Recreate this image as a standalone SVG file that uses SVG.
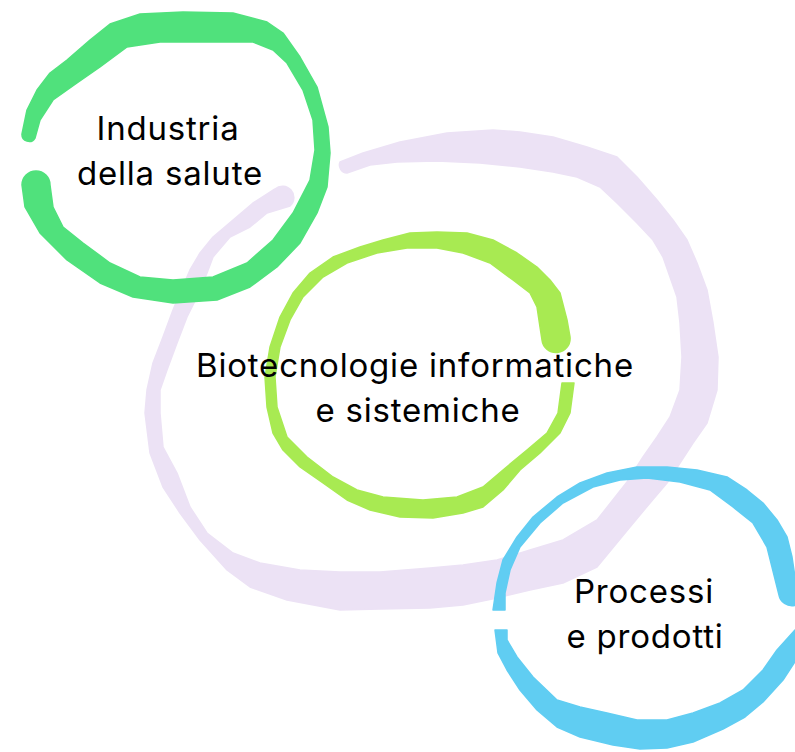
<svg xmlns="http://www.w3.org/2000/svg" width="795" height="752" viewBox="0 0 795 752">
<style>
.ring{stroke-width:1.5;stroke-linejoin:round}
.lav{fill:#ECE2F5;stroke:#ECE2F5}
.grn{fill:#50E17C;stroke:#50E17C}
.lim{fill:#A8EA52;stroke:#A8EA52}
.blu{fill:#60CDF2;stroke:#60CDF2}
.lbl{font-family:Inter,"Open Sans","Liberation Sans",sans-serif;font-size:33px;letter-spacing:0.8px;fill:#000;text-anchor:middle}
</style>
<rect width="795" height="752" fill="#fff"/>
<g id="outer-ring">
<path class="ring lav" d="M340,162 L363,153 400,142 447,133 493,130 520,132 553,137 587,147 617,157 637,177 657,200 673,220 687,240 697,263 707,290 713,323 718,357 717,390 707,423 693,443 680,463 667,483 650,503 630,527 597,567 563,583 530,590 497,598 463,605 430,608 380,609 340,610 287,600 250,587 227,570 200,540 180,513 163,487 150,453 145,413 147,390 153,363 163,337 173,310 180,293 190,270 200,253 213,237 233,220 253,203 275,189 A10 10 0 0 1 290,206 L267,213 250,227 230,237 213,257 207,273 197,297 187,317 177,343 167,370 160,390 160,413 163,447 177,473 190,507 207,533 233,553 260,563 300,570 340,572 380,572 430,568 463,565 497,560 530,550 563,540 597,520 627,482 643,457 657,437 670,417 680,390 682,357 680,323 677,297 670,277 663,257 653,240 637,223 617,203 600,187 577,177 553,172 520,167 480,163 437,161 397,162 370,165 347,173 A8 8 0 0 1 340,162 Z"/>
</g>
<g id="industria">
<path class="ring grn" d="M22,134 L27,110 37,90 50,73 67,60 90,40 110,24 140,14 183,12 233,13 267,22 283,33 300,57 317,87 328,127 330,153 327,187 317,213 300,243 277,267 250,287 217,300 173,303 133,297 100,283 67,260 40,233 25,207 22,185 A14 14 0 0 1 50,185 L53,207 63,227 83,243 110,263 140,277 173,280 213,277 247,263 273,240 293,213 310,180 315,150 313,120 303,90 287,63 273,50 253,42 217,42 160,42 127,47 100,67 77,83 53,100 40,120 35,138 A7 7 0 0 1 22,134 Z"/>
<text class="lbl" x="168" y="140">Industria</text>
<text class="lbl" x="170" y="185">della salute</text>
</g>
<g id="biotecnologie">
<path class="ring lim" d="M570,337 L567,320 560,293 550,280 537,267 517,253 493,240 467,233 437,232 410,233 383,240 360,247 333,257 310,273 293,293 280,317 270,347 265,377 267,407 273,433 283,450 300,467 323,483 347,500 370,510 400,517 433,518 463,513 483,507 503,490 520,470 540,453 560,433 570,413 574,383 L562,383 558,413 547,433 527,450 503,470 483,487 457,497 423,500 383,497 357,490 333,477 307,457 287,437 277,407 275,377 280,347 290,320 303,297 323,277 347,263 377,253 407,248 437,248 463,253 490,263 513,280 530,293 537,307 540,327 542,340 A14 14 0 0 0 570,337 Z"/>
<text class="lbl" x="415" y="377">Biotecnologie informatiche</text>
<text class="lbl" x="418" y="422">e sistemiche</text>
</g>
<g id="processi">
<path class="ring blu" d="M493,610 L497,583 503,560 517,537 533,517 557,497 580,483 607,473 637,467 667,467 697,470 727,477 747,490 763,503 777,520 787,537 792,557 795,577 805,590 A13 13 0 0 1 779,595 L772,567 767,547 753,523 733,507 710,490 680,482 647,478 620,480 593,487 563,503 540,523 520,547 510,570 505,593 505,610 Z"/>
<path class="ring blu" d="M495,630 L498,653 507,670 520,690 537,710 557,727 580,737 613,745 640,749 667,748 693,742 723,729 745,717 763,702 783,680 796,660 800,650 800,628 795,630 777,650 763,670 743,690 720,703 693,713 667,720 637,720 607,713 580,707 557,700 533,677 517,657 507,640 507,630 Z"/>
<text class="lbl" x="644" y="603">Processi</text>
<text class="lbl" x="645" y="648">e prodotti</text>
</g>
</svg>
